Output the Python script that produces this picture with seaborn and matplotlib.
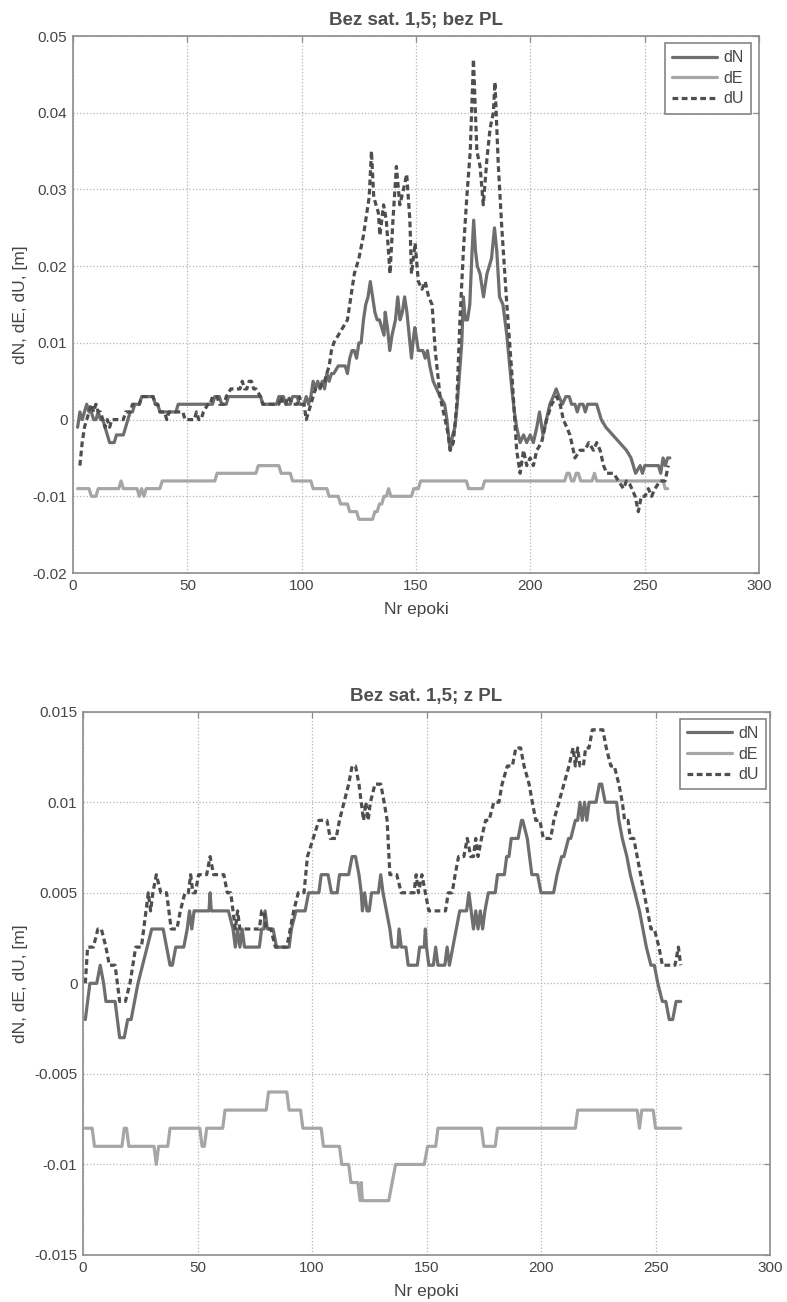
import matplotlib
matplotlib.use("Agg")
import matplotlib.pyplot as plt
import seaborn as sns
import numpy as np

# ---------------------------------------------------------------
# Position differences per epoch, values in millimetres
# (epoch, value) vertices of each polyline
# ---------------------------------------------------------------

# Panel 1: "Bez sat. 1,5; bez PL"
top_dN_ep = [2, 3, 4, 5, 6, 7, 8, 9, 10, 11, 12, 13, 14, 15, 16, 18, 19, 22, 23, 24, 25, 26, 27, 29, 30, 35, 36, 37, 38,
             45, 46, 61, 62, 64, 65, 67, 68, 82, 83, 89, 90, 92, 93, 95, 96, 98, 99, 101, 102, 103, 104, 105, 106, 107,
             108, 109, 110, 111, 112, 113, 114, 116, 119, 120, 121, 122, 123, 124, 125, 126, 127, 128, 129, 130, 131,
             132, 133, 134, 135, 136, 136.5, 137.5, 138.5, 139.5, 141, 142, 143, 144, 145, 146, 147, 148, 149, 149.5,
             150.5, 151, 153, 154, 155, 156, 157.5, 159, 160.5, 162.5, 163.5, 164.5, 165, 166, 167, 168, 169, 170,
             170.7, 171.5, 172.5, 173.5, 174.5, 175.2, 176, 176.8, 178, 179.5, 181, 183, 184.3, 185.3, 186.5, 188,
             189.7, 191.9, 193, 194, 195.5, 197, 198.4, 199.9, 201.3, 202.8, 204, 205.5, 207, 208.5, 210, 211.3,
             212.5, 214, 215.5, 217, 218, 219.5, 220.5, 221.5, 223, 224, 225, 229, 231, 233, 236, 239, 242, 244, 246,
             248, 249, 250, 256, 257, 258, 259, 260, 261]
top_dN_mm = [-1, 1, 0, 1, 2, 1, 1, 0, 0, 1, 0, 0, -1, -2, -3, -3, -2, -2, -1, 0, 1, 1, 2, 2, 3, 3, 2, 2, 1,
             1, 2, 2, 3, 3, 2, 2, 3, 3, 2, 2, 3, 3, 2, 2, 3, 3, 2, 2, 3, 2, 3, 5, 4, 5,
             4, 5, 4, 6, 5, 6, 6, 7, 7, 6, 8, 9, 9, 8, 10, 10, 13, 15, 16, 18, 16,
             14, 13, 13, 12, 11, 14, 12, 9, 11, 13, 16, 13, 14, 16, 14, 11, 8, 11, 12,
             10, 9, 9, 8, 9, 7, 5, 4, 3, 2, 0, -3, -4, -2, -1, 2, 6, 10,
             16, 13, 13, 15, 22, 26, 22, 20, 19, 16, 19, 21, 25, 22, 16, 15,
             11, 4, 1, -1, -3, -2, -3, -2, -3, -1, 1, -2, 0, 2, 3, 4,
             3, 2, 3, 3, 2, 2, 1, 2, 2, 1, 2, 2, 0, -1, -2, -3, -4, -5, -7,
             -6, -7, -6, -6, -7, -5, -6, -5, -5]

top_dE_ep = [2, 7, 8, 10, 11, 20, 21, 22, 28, 29, 30, 31, 32, 38, 39, 62, 63, 80, 81, 90, 91, 95, 96, 104, 105,
             111, 112, 116, 117, 120, 121, 124, 125, 131, 132, 133, 134, 135, 136, 137, 138, 139, 148, 149, 151,
             152, 172, 173, 179, 180, 215, 216, 217, 218, 219, 220, 221, 222, 227, 228, 229, 258, 259, 260]
top_dE_mm = [-9, -9, -10, -10, -9, -9, -8, -9, -9, -10, -9, -10, -9, -9, -8, -8, -7, -7, -6, -6, -7, -7, -8, -8, -9,
             -9, -10, -10, -11, -11, -12, -12, -13, -13, -12, -12, -11, -11, -10, -10, -9, -10, -10, -9, -9,
             -8, -8, -9, -9, -8, -8, -7, -7, -8, -8, -7, -7, -8, -8, -7, -8, -8, -9, -9]

top_dU_ep = [3, 4, 5, 6, 7, 8, 9, 10, 11, 12, 13, 14, 15, 16, 17, 22, 23, 25, 26, 29, 30, 35, 36, 37, 38, 40, 41,
             42, 48, 49, 53, 54, 55, 56, 57, 59, 60, 61, 63, 64, 66, 67, 69, 71, 73, 74, 75, 76, 77, 78, 79, 80,
             82, 83, 90, 91, 92, 93, 94, 96, 98, 99, 100, 101, 102, 103, 104, 105, 106, 108, 109, 110, 111, 112,
             113, 114, 116, 118, 120, 121, 122, 123, 125, 127, 128, 129.5, 130.5, 131.5, 132.5, 133.5, 134.2,
             135.8, 137, 138.6, 139.9, 141.4, 142.9, 144.5, 145.9, 147.3, 148, 149.6, 151, 152.6, 154, 155.5,
             157, 158.4, 160.5, 162.7, 164.1, 164.9, 166.3, 167.8, 169.2, 170.7, 172.2, 173.7, 175.1, 176.6,
             178, 179.4, 181, 182.4, 183.8, 184.5, 186, 187.5, 189.7, 191.9, 194, 195.5, 197, 198.4, 199.9,
             201.3, 202.8, 204.9, 207.1, 209.3, 211.5, 213, 214.4, 215.9, 217.3, 219.5, 221.7, 223.9, 225.5,
             227.6, 229, 230.5, 232, 233.4, 236.4, 238.5, 240.7, 242, 243.6, 245.8, 247.2, 248.5, 250.1, 251.6,
             253, 254.5, 256.7, 258.9, 260.3]
top_dU_mm = [-6, -3, -1, 0, 1, 2, 1, 2, 1, 1, 0, -1, 0, -1, 0, 0, 1, 1, 2, 2, 3, 3, 2, 2, 1, 1, 0,
             1, 1, 0, 0, 1, 0, 0, 1, 2, 2, 3, 3, 2, 2, 3, 4, 4, 4, 5, 4, 4, 5, 5, 4, 4,
             3, 2, 2, 3, 2, 2, 3, 2, 2, 3, 2, 2, 0, 1, 2, 3, 4, 4, 5, 5, 6, 7,
             9, 10, 11, 12, 13, 15, 17, 19, 21, 24, 26, 29, 35, 29, 28, 27, 24,
             28, 26, 19, 26, 33, 28, 30, 32, 26, 19, 23, 18, 17, 18, 16,
             15, 9, 3, 0, -2, -4, -3, 2, 13, 22, 29, 35, 47, 35,
             33, 28, 34, 38, 40, 44, 33, 25, 15, 6, -4, -7, -4, -6, -5,
             -6, -4, -3, 0, 2, 3, 2, 0, -1, -2, -5, -4, -4, -3,
             -4, -3, -4, -6, -7, -7, -8, -9, -8, -8.5, -10, -12, -10, -10, -9,
             -10, -9, -8, -8, -6]

# Panel 2: "Bez sat. 1,5; z PL"
bot_dN_ep = [1, 3, 6, 7.5, 9, 10, 14, 16, 18, 19.5, 21, 22.5, 24, 26, 28, 30, 35, 36.5, 38, 39, 40.5, 44, 45.5,
             46.5, 47.5, 48.5, 55, 55.5, 56, 63.5, 65.5, 66.5, 67.5, 68.5, 69.5, 70.5, 77, 78, 79, 79.5, 80.5, 83,
             84.5, 90, 91, 93, 97, 98.5, 103, 104, 107, 108.5, 111, 112, 116, 117.5, 119, 120.5, 121.5, 122, 123,
             124, 125, 126, 129, 130, 131, 132.5, 134, 135, 137.5, 138, 139, 141, 142, 146, 147, 149, 149.5, 150,
             151, 153, 154, 155, 158, 159, 160, 161.5, 163, 164.5, 167.5, 168.5, 169.5, 170.5, 171.5, 172.5,
             173.5, 174.5, 175.5, 177, 180, 181, 184, 185, 186, 187, 190, 191.5, 192, 194, 195, 196, 198.5, 200,
             205.5, 207, 209, 210, 212, 213, 215, 216, 217, 218, 219, 220, 221, 224, 225.5, 226.5, 228, 233, 234,
             235.5, 237.5, 239, 241, 243, 244.5, 246, 248, 249.5, 251, 253, 254.5, 256, 257.5, 259, 261]
bot_dN_mm = [-2, 0, 0, 1, 0, -1, -1, -3, -3, -2, -2, -1, 0, 1, 2, 3, 3, 2, 1, 1, 2, 2, 3,
             4, 3, 4, 4, 5, 4, 4, 3, 2, 3, 2, 3, 2, 2, 3, 3, 4, 3, 3,
             2, 2, 3, 4, 4, 5, 5, 6, 6, 5, 5, 6, 6, 7, 7, 6, 5, 4, 5,
             4, 4, 5, 5, 6, 5, 4, 3, 2, 2, 3, 2, 2, 1, 1, 2, 2, 3, 2,
             1, 1, 2, 1, 1, 2, 1, 2, 3, 4, 4, 5, 4, 3, 4, 3,
             4, 3, 4, 5, 5, 6, 6, 7, 7, 8, 8, 9, 9, 8, 7, 6, 6, 5,
             5, 6, 7, 7, 8, 8, 9, 9, 10, 9, 10, 9, 10, 10, 11, 11, 10, 10, 9,
             8, 7, 6, 5, 4, 3, 2, 1, 1, 0, -1, -1, -2, -2, -1, -1]

bot_dE_ep = [1, 4, 5, 17, 18, 19, 20, 31, 32, 33, 37, 38, 51, 52, 53, 54, 61, 62, 80, 81, 89, 90, 95, 96, 104,
             105, 112, 113, 116, 117, 120, 121, 121.5, 122, 133.5, 135, 136.5, 149, 150.5, 154, 155, 174, 175,
             180, 181, 215, 216, 242, 243, 244, 249, 250, 261]
bot_dE_mm = [-8, -8, -9, -9, -8, -8, -9, -9, -10, -9, -9, -8, -8, -9, -9, -8, -8, -7, -7, -6, -6, -7, -7, -8, -8,
             -9, -9, -10, -10, -11, -11, -12, -11, -12, -12, -11, -10, -10, -9, -9, -8, -8, -9,
             -9, -8, -8, -7, -7, -8, -7, -7, -8, -8]

bot_dU_ep = [1, 2, 4.5, 6.5, 8, 10, 11.5, 14, 16, 18.5, 20.5, 23, 25.5, 27.5, 28.5, 29.5, 30.5, 32, 34, 36.5,
             38.5, 41, 42.5, 44.5, 46, 47, 48, 49, 50.5, 54, 55.5, 57, 61.5, 63, 64.5, 65.5, 66.5, 67.5, 68.5, 70,
             77, 78, 79, 80, 82, 84, 89, 90.5, 92, 94, 96.5, 98, 100.5, 103, 106.5, 108, 110.5, 112, 114, 116,
             117.5, 119, 120.5, 121.5, 122.5, 123.5, 124.5, 125.5, 127.5, 130, 131.5, 132.8, 134, 137, 139, 144.5,
             145.5, 146.5, 148, 149.5, 151, 158.3, 159.5, 161.2, 162.5, 164, 166.3, 167.8, 169.3, 170.5, 171.5,
             172.5, 174, 175.8, 177.3, 179.4, 181.6, 183, 185.3, 187.5, 189, 191.1, 192.6, 194.8, 196.2, 197.7,
             199.5, 201, 204.2, 205.6, 207.8, 210, 212.2, 214, 215, 216, 217, 218.5, 219.5, 221, 222.4, 227,
             228.5, 230.5, 232, 234, 235.5, 236.5, 238, 239, 240.5, 242, 243.5, 245, 246.5, 248, 249.5, 251.5,
             253, 258.5, 260, 261]
bot_dU_mm = [0, 2, 2, 3, 3, 2, 1, 1, -1, -1, 0, 2, 2, 4, 5, 4, 5, 6, 5, 5,
             3, 3, 4, 5, 5, 6, 5, 5, 6, 6, 7, 6, 6, 5, 5, 4, 3, 4, 3, 3,
             3, 4, 4, 3, 3, 2, 2, 3, 4, 5, 5, 7, 8, 9, 9, 8, 8, 9, 10, 11,
             12, 12, 11, 10, 9, 10, 9, 10, 11, 11, 10, 9, 6, 6, 5, 5,
             6, 5, 6, 5, 4, 4, 5, 5, 6, 7, 7, 8, 7, 7, 8,
             7, 8, 9, 9, 10, 10, 11, 12, 12, 13, 13, 12, 11, 10, 9,
             9, 8, 8, 9, 10, 11, 12, 13, 12, 13, 12, 12, 13, 13, 14, 14,
             13, 12, 12, 11, 10, 9, 9, 8, 8, 7, 6, 5, 4, 3, 3, 2,
             1, 1, 2, 1]

series_names = ["dN", "dE", "dU"]
panel_titles = ["Bez sat. 1,5; bez PL", "Bez sat. 1,5; z PL"]
x_label = "Nr epoki"
y_label = "dN, dE, dU, [m]"
x_ticks = [0, 50, 100, 150, 200, 250, 300]
top_y_ticks = [-0.02, -0.01, 0, 0.01, 0.02, 0.03, 0.04, 0.05]
top_y_labels = ["-0.02", "-0.01", "0", "0.01", "0.02", "0.03", "0.04", "0.05"]
bot_y_ticks = [-0.015, -0.01, -0.005, 0, 0.005, 0.01, 0.015]
bot_y_labels = ["-0.015", "-0.01", "-0.005", "0", "0.005", "0.01", "0.015"]

# ---------------------------------------------------------------
# Styling
# ---------------------------------------------------------------
sns.set_style("white")
plt.rcParams["font.family"] = ["Liberation Sans", "DejaVu Sans"]
plt.rcParams["axes.unicode_minus"] = False

line_styles = {
    "dN": dict(color="#6e6e6e", linestyle="-"),
    "dE": dict(color="#a6a6a6", linestyle="-"),
    "dU": dict(color="#4e4e4e", linestyle=(0, (1.8, 1.1))),
}
frame_col = "#8c8c8c"
text_col = "#454545"

fig = plt.figure(figsize=(7.87, 13.02), dpi=100)
ax_top = fig.add_axes([0.0928, 0.5599, 0.8717, 0.4124])
ax_bot = fig.add_axes([0.1055, 0.0361, 0.8729, 0.4173])

panels = [
    (ax_top, panel_titles[0],
     [(top_dN_ep, top_dN_mm), (top_dE_ep, top_dE_mm), (top_dU_ep, top_dU_mm)],
     (-0.02, 0.05), top_y_ticks, top_y_labels, (0.988, 0.987), -0.066),
    (ax_bot, panel_titles[1],
     [(bot_dN_ep, bot_dN_mm), (bot_dE_ep, bot_dE_mm), (bot_dU_ep, bot_dU_mm)],
     (-0.015, 0.015), bot_y_ticks, bot_y_labels, (0.994, 0.987), -0.080),
]

for ax, title, data, ylim, yt, ytl, leg_anchor, ylab_x in panels:
    for name, (ep, mm) in zip(series_names, data):
        sns.lineplot(x=np.asarray(ep, dtype=float), y=np.asarray(mm, dtype=float) / 1000.0,
                     ax=ax, estimator=None, sort=False, linewidth=2.3, label=name,
                     **line_styles[name])

    ax.set_xlim(0, 300)
    ax.set_ylim(*ylim)
    ax.set_xticks(x_ticks)
    ax.set_xticklabels([str(t) for t in x_ticks])
    ax.set_yticks(yt)
    ax.set_yticklabels(ytl)

    ax.grid(True, linestyle=":", color="#b5b5b5", linewidth=0.9)
    for sp in ax.spines.values():
        sp.set_color(frame_col)
        sp.set_linewidth(1.2)
    ax.tick_params(direction="in", length=4, width=0.9, color=frame_col,
                   labelcolor=text_col, labelsize=11, top=True, right=True, pad=4)

    ax.set_title(title, fontsize=13.5, fontweight="bold", color="#505050", pad=8)
    ax.set_xlabel(x_label, fontsize=12.5, color=text_col, labelpad=7)
    ax.set_ylabel(y_label, fontsize=12.5, color=text_col)
    ax.yaxis.set_label_coords(ylab_x, 0.5)

    leg = ax.legend(loc="upper right", bbox_to_anchor=leg_anchor, frameon=True, fancybox=False,
                    edgecolor="#7a7a7a", framealpha=1, fontsize=11.5, handlelength=2.8,
                    handletextpad=0.4, borderpad=0.45, labelspacing=0.35, borderaxespad=0)
    leg.get_frame().set_linewidth(1.1)
    for t in leg.get_texts():
        t.set_color(text_col)

fig.savefig("out.png", dpi=100, facecolor="white")
